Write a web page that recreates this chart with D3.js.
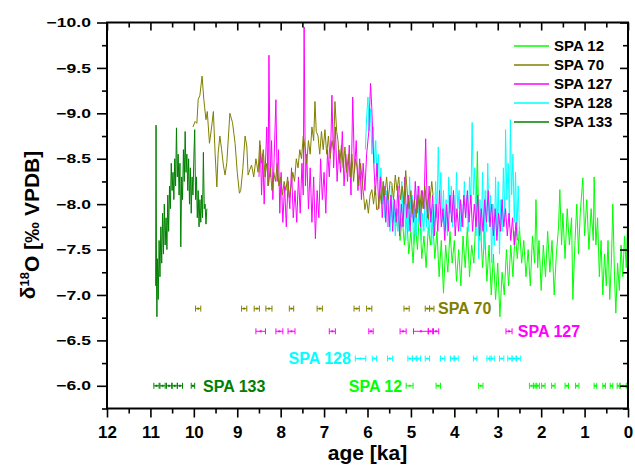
<!DOCTYPE html>
<html>
<head>
<meta charset="utf-8">
<script src="https://cdn.jsdelivr.net/npm/d3@7"></script>
<style>
    body { margin: 0; background: #fff; }
    svg text { font-family: "Liberation Sans", Arial, sans-serif; font-weight: bold; }
</style>
</head>
<body>
<div id="chart"></div>
<script>
// --- data: [age ka, d18O] ---
const seriesNames = ['SPA 12', 'SPA 70', 'SPA 127', 'SPA 128', 'SPA 133'];
const seriesColors = ['#00ff00', '#808000', '#ff00ff', '#00ffff', '#008000'];

const spa12 = [
    [5.35,-7.75],[5.30,-7.95],[5.25,-7.60],[5.20,-7.85],[5.15,-7.55],[5.10,-7.90],[5.05,-7.45],[5.00,-7.70],
    [4.95,-7.35],[4.90,-7.80],[4.85,-7.50],[4.80,-7.95],[4.75,-7.40],[4.70,-7.65],[4.65,-7.30],[4.60,-7.75],
    [4.55,-7.55],[4.50,-7.85],[4.45,-7.40],[4.40,-7.70],[4.35,-7.20],[4.30,-7.60],[4.25,-7.02],[4.20,-7.55],
    [4.15,-7.25],[4.10,-7.70],[4.05,-7.35],[4.00,-7.60],[3.95,-7.15],[3.90,-7.50],[3.85,-7.10],[3.80,-7.65],
    [3.75,-7.30],[3.70,-7.75],[3.65,-7.20],[3.60,-7.55],[3.55,-7.35],[3.50,-7.90],[3.47,-8.58],[3.43,-7.60],
    [3.40,-7.80],[3.35,-7.30],[3.30,-7.70],[3.25,-7.15],[3.20,-7.55],[3.15,-7.00],[3.10,-7.45],[3.05,-6.95],
    [3.00,-7.35],[2.95,-6.76],[2.90,-7.25],[2.85,-7.00],[2.80,-7.50],[2.75,-7.10],[2.70,-7.55],[2.65,-7.20],
    [2.60,-7.70],[2.55,-7.40],[2.50,-7.75],[2.45,-7.35],[2.40,-7.60],[2.35,-7.20],[2.30,-7.50],[2.25,-7.10],
    [2.20,-7.65],[2.15,-7.35],[2.12,-8.05],[2.08,-7.30],[2.05,-7.60],[2.00,-7.05],[1.95,-7.55],[1.90,-7.20],
    [1.85,-7.70],[1.80,-7.25],[1.75,-7.60],[1.70,-7.00],[1.65,-7.45],[1.60,-7.75],[1.57,-8.16],[1.53,-7.55],
    [1.50,-7.90],[1.45,-7.40],[1.40,-7.95],[1.35,-7.55],[1.30,-7.85],[1.27,-6.95],[1.22,-7.60],[1.18,-8.00],
    [1.14,-7.45],[1.10,-7.90],[1.04,-8.29],[1.00,-7.65],[0.95,-8.05],[0.90,-7.50],[0.85,-7.95],[0.80,-7.60],
    [0.78,-8.30],[0.74,-7.55],[0.70,-7.85],[0.66,-7.20],[0.62,-7.60],[0.58,-7.00],[0.54,-7.45],[0.50,-7.10],
    [0.46,-7.60],[0.42,-6.95],[0.38,-7.40],[0.35,-8.00],[0.31,-7.20],[0.28,-6.80],[0.24,-7.35],[0.20,-7.05],
    [0.16,-7.55],[0.12,-7.20],[0.08,-7.65],[0.04,-7.30],[0.00,-7.95]
];

const spa70 = [
    [10.02,-8.85],[9.97,-8.91],[9.93,-8.89],[9.90,-9.15],[9.86,-9.20],[9.81,-9.41],[9.77,-9.15],[9.72,-8.93],
    [9.69,-9.02],[9.64,-8.67],[9.59,-8.85],[9.55,-9.02],[9.51,-8.56],[9.47,-8.19],[9.44,-8.56],[9.40,-8.75],
    [9.36,-8.60],[9.32,-8.43],[9.28,-8.32],[9.24,-8.46],[9.17,-9.00],[9.11,-8.90],[9.05,-8.67],[9.00,-8.35],
    [8.95,-8.12],[8.92,-8.15],[8.87,-8.40],[8.82,-8.75],[8.78,-8.64],[8.75,-8.32],[8.71,-8.38],[8.67,-8.43],
    [8.62,-8.30],[8.57,-8.50],[8.52,-8.35],[8.48,-8.70],[8.44,-8.45],[8.40,-8.60],[8.36,-8.30],[8.32,-8.45],
    [8.28,-8.20],[8.24,-8.40],[8.20,-8.15],[8.16,-8.35],[8.12,-8.25],[8.08,-8.45],[8.04,-8.20],[8.00,-8.30],
    [7.96,-8.10],[7.92,-8.25],[7.88,-8.15],[7.84,-8.30],[7.80,-8.07],[7.76,-8.20],[7.72,-8.35],[7.68,-8.25],
    [7.64,-8.50],[7.60,-8.40],[7.56,-8.60],[7.52,-8.50],[7.48,-8.75],[7.44,-8.63],[7.40,-8.45],[7.36,-8.70],
    [7.32,-8.55],[7.28,-8.85],[7.24,-8.70],[7.21,-9.13],[7.18,-8.80],[7.14,-8.75],[7.10,-8.55],[7.06,-8.80],
    [7.02,-8.60],[6.98,-8.82],[6.94,-8.55],[6.90,-8.75],[6.86,-8.50],[6.82,-8.70],[6.78,-8.60],[6.75,-9.13],
    [6.71,-8.80],[6.68,-8.70],[6.64,-8.45],[6.60,-8.65],[6.56,-8.40],[6.52,-8.63],[6.48,-8.35],[6.44,-8.55],
    [6.40,-8.30],[6.36,-8.55],[6.32,-8.25],[6.28,-8.50],[6.24,-8.41],[6.20,-8.20],[6.16,-8.45],[6.13,-8.30],
    [6.09,-8.10],[6.06,-7.94],[6.02,-8.05],[5.98,-7.90],[5.94,-8.10],[5.90,-8.16],[5.86,-8.00],[5.82,-8.20],
    [5.79,-7.94],[5.76,-7.94],[5.72,-8.15],[5.68,-8.00],[5.64,-8.25],[5.60,-8.10],[5.56,-8.30],[5.52,-8.05],
    [5.48,-8.25],[5.44,-8.23],[5.40,-8.05],[5.36,-8.32],[5.32,-8.15],[5.28,-8.30],[5.24,-8.05],[5.20,-8.20],
    [5.16,-8.00],[5.12,-8.37],[5.08,-8.10],[5.04,-7.95],[5.00,-8.15],[4.96,-7.90],[4.92,-8.05],[4.88,-7.85],
    [4.84,-8.10],[4.80,-7.90],[4.76,-8.15],[4.72,-7.95],[4.68,-8.20],[4.64,-8.00],[4.60,-7.83],[4.56,-8.05],
    [4.52,-8.25],[4.49,-8.10]
];

const spa127 = [
    [8.50,-8.30],[8.47,-8.65],[8.44,-8.10],[8.41,-8.55],[8.38,-8.00],[8.35,-8.45],[8.32,-8.85],[8.29,-8.20],
    [8.27,-9.64],[8.24,-8.30],[8.21,-8.70],[8.18,-8.05],[8.15,-8.50],[8.11,-9.15],[8.08,-8.25],[8.05,-8.60],
    [8.02,-7.90],[7.99,-8.35],[7.95,-7.80],[7.91,-8.20],[7.87,-7.75],[7.83,-8.25],[7.79,-7.95],[7.75,-8.40],
    [7.71,-7.85],[7.67,-8.15],[7.63,-7.80],[7.59,-8.30],[7.55,-7.90],[7.51,-8.45],[7.48,-8.10],[7.46,-9.95],
    [7.43,-8.20],[7.40,-8.55],[7.36,-7.95],[7.32,-8.40],[7.28,-7.80],[7.24,-8.30],[7.20,-7.62],[7.16,-8.15],
    [7.12,-7.85],[7.08,-8.50],[7.04,-8.05],[7.00,-8.35],[6.96,-7.90],[6.92,-8.60],[6.88,-8.30],[6.84,-8.75],
    [6.82,-9.20],[6.78,-8.40],[6.74,-8.85],[6.70,-8.25],[6.66,-8.60],[6.62,-8.35],[6.58,-8.80],[6.54,-8.20],
    [6.50,-8.55],[6.46,-8.25],[6.42,-8.65],[6.38,-8.10],[6.34,-9.18],[6.30,-8.35],[6.26,-8.70],[6.22,-8.15],
    [6.18,-8.50],[6.14,-8.05],[6.10,-8.45],[6.06,-8.15],[6.02,-8.55],[5.97,-8.80],[5.93,-9.33],[5.90,-9.05],
    [5.86,-8.50],[5.82,-8.10],[5.78,-8.45],[5.74,-7.95],[5.70,-8.30],[5.66,-7.85],[5.62,-8.20],[5.58,-7.80],
    [5.54,-8.15],[5.50,-7.75],[5.46,-8.10],[5.42,-7.70],[5.38,-8.05],[5.34,-7.80],[5.30,-8.20],[5.26,-7.65],
    [5.22,-8.00],[5.18,-7.75],[5.14,-8.30],[5.10,-7.85],[5.06,-8.10],[5.02,-7.70],[4.98,-8.05],[4.94,-7.80],
    [4.90,-8.25],[4.86,-7.90],[4.82,-8.20],[4.78,-7.75],[4.74,-8.15],[4.70,-7.95],[4.66,-8.72],[4.62,-7.85],
    [4.58,-8.20],[4.54,-7.80],[4.50,-8.10],[4.46,-7.65],[4.42,-8.00],[4.38,-7.70],[4.34,-8.15],[4.30,-7.75],
    [4.26,-7.95],[4.22,-7.60],[4.18,-8.00],[4.14,-7.70],[4.10,-8.10],[4.06,-7.80],[4.02,-8.15],[3.98,-7.65],
    [3.94,-7.95],[3.90,-7.70],[3.86,-8.05],[3.82,-7.75],[3.78,-8.10],[3.74,-7.85],[3.70,-8.15],[3.66,-7.80],
    [3.62,-8.10],[3.58,-7.70],[3.54,-8.00],[3.50,-7.75],[3.46,-8.10],[3.42,-7.65],[3.38,-7.95],[3.34,-7.70],
    [3.30,-8.05],[3.26,-7.80],[3.22,-8.15],[3.18,-7.75],[3.14,-8.00],[3.10,-7.65],[3.06,-7.95],[3.02,-7.60],
    [2.98,-7.90],[2.94,-7.70],[2.90,-8.05],[2.86,-7.75],[2.82,-7.95],[2.78,-7.65],[2.74,-7.90],[2.70,-7.60],
    [2.66,-7.85],[2.62,-7.55],[2.58,-7.80],[2.55,-7.60]
];

const spa128 = [
    [6.05,-8.60],[6.02,-8.95],[5.99,-9.18],[5.96,-8.80],[5.93,-9.05],[5.90,-8.55],[5.87,-8.85],[5.84,-8.45],
    [5.81,-8.70],[5.78,-8.30],[5.75,-8.55],[5.72,-8.15],[5.69,-8.40],[5.66,-8.00],[5.63,-8.25],[5.60,-7.85],
    [5.57,-8.15],[5.54,-7.75],[5.51,-8.05],[5.48,-7.70],[5.45,-8.20],[5.42,-7.80],[5.39,-8.05],[5.36,-7.65],
    [5.33,-7.95],[5.30,-7.70],[5.27,-8.10],[5.24,-7.75],[5.21,-8.25],[5.18,-7.85],[5.15,-8.15],[5.12,-7.60],
    [5.09,-8.00],[5.06,-7.70],[5.03,-8.30],[5.00,-7.85],[4.97,-8.10],[4.94,-7.55],[4.91,-7.95],[4.88,-7.65],
    [4.85,-8.20],[4.82,-7.80],[4.79,-8.05],[4.76,-7.60],[4.73,-7.90],[4.70,-7.70],[4.67,-8.15],[4.64,-7.75],
    [4.61,-8.05],[4.58,-7.65],[4.55,-7.95],[4.52,-7.55],[4.49,-8.00],[4.46,-7.70],[4.43,-8.25],[4.40,-7.85],
    [4.37,-8.63],[4.34,-8.00],[4.31,-8.35],[4.28,-7.80],[4.25,-8.15],[4.22,-7.70],[4.19,-8.05],[4.16,-7.65],
    [4.13,-8.30],[4.10,-7.90],[4.07,-8.20],[4.04,-7.75],[4.01,-8.10],[3.98,-7.80],[3.95,-8.35],[3.92,-7.95],
    [3.89,-8.15],[3.86,-7.70],[3.83,-8.00],[3.80,-7.75],[3.77,-8.25],[3.74,-7.85],[3.71,-8.10],[3.68,-7.70],
    [3.65,-8.30],[3.62,-8.00],[3.59,-8.90],[3.56,-8.10],[3.53,-8.40],[3.50,-7.65],[3.47,-8.20],[3.44,-7.40],
    [3.41,-8.05],[3.38,-7.60],[3.35,-8.35],[3.32,-7.50],[3.29,-8.15],[3.26,-7.70],[3.23,-8.45],[3.20,-7.80],
    [3.17,-8.10],[3.14,-7.35],[3.11,-8.00],[3.08,-7.55],[3.05,-8.30],[3.02,-7.65],[2.99,-8.25],[2.96,-7.45],
    [2.93,-8.05],[2.90,-7.70],[2.87,-8.40],[2.84,-7.85],[2.82,-8.82],[2.79,-8.05],[2.76,-8.45],[2.73,-7.75],
    [2.71,-8.93],[2.68,-8.10],[2.65,-8.55],[2.62,-7.80],[2.59,-8.35],[2.56,-7.65],[2.53,-8.20],[2.50,-7.70]
];

const spa133 = [
    [10.88,-7.10],[10.87,-8.87],[10.86,-7.20],[10.85,-6.76],[10.84,-7.40],[10.82,-6.95],[10.80,-7.60],[10.78,-7.20],
    [10.76,-7.75],[10.74,-7.35],[10.72,-7.90],[10.70,-7.45],[10.68,-8.00],[10.66,-7.55],[10.64,-7.85],[10.62,-7.50],
    [10.60,-8.10],[10.58,-7.70],[10.56,-8.20],[10.54,-7.95],[10.52,-8.45],[10.50,-8.15],[10.48,-8.35],[10.46,-8.05],
    [10.44,-8.50],[10.42,-8.20],[10.40,-8.84],[10.38,-8.30],[10.36,-8.55],[10.34,-8.10],[10.32,-8.45],[10.30,-7.53],
    [10.28,-8.30],[10.26,-8.05],[10.24,-8.60],[10.22,-8.25],[10.20,-8.80],[10.18,-8.35],[10.16,-8.55],[10.14,-8.15],
    [10.12,-8.50],[10.10,-8.00],[10.08,-8.40],[10.06,-7.90],[10.04,-8.30],[10.02,-8.10],[10.00,-8.50],[9.98,-8.82],
    [9.96,-8.05],[9.94,-8.30],[9.92,-7.85],[9.90,-8.15],[9.88,-7.75],[9.86,-8.05],[9.84,-7.80],[9.82,-8.10],
    [9.80,-7.85],[9.78,-8.57],[9.76,-7.95],[9.74,-8.00],[9.72,-7.78],[9.70,-7.95]
];

// U/Th dates: [age, error]
const spa12Dates = [[5.03,0.08],[4.37,0.05],[3.39,0.05],[2.22,0.05],[2.14,0.04],[2.08,0.04],[1.95,0.04],[1.72,0.04],
    [1.41,0.04],[1.17,0.04],[0.75,0.03],[0.55,0.03],[0.38,0.03],[0.22,0.03],[0.11,0.07]];
const spa70Dates = [[9.90,0.06],[8.84,0.06],[8.55,0.06],[8.27,0.07],[7.75,0.05],[7.10,0.06],[6.25,0.06],[5.96,0.06],
    [5.10,0.06],[4.62,0.05],[4.52,0.05]];
const spa127Dates = [[8.46,0.11],[8.03,0.08],[7.75,0.08],[6.81,0.07],[5.92,0.05],[5.18,0.07],[4.77,0.17],[4.55,0.05],
    [4.42,0.06],[2.74,0.07]];
const spa128Dates = [[6.16,0.12],[5.84,0.05],[5.48,0.06],[5.02,0.05],[4.91,0.05],[4.83,0.05],[4.62,0.05],[4.27,0.05],
    [4.04,0.05],[3.96,0.05],[3.52,0.04],[3.20,0.05],[3.13,0.05],[2.91,0.05],[2.72,0.05],[2.62,0.05],[2.53,0.05]];
const spa133Dates = [[10.86,0.06],[10.72,0.06],[10.57,0.06],[10.44,0.06],[10.32,0.06],[10.02,0.04]];

const dateRowValue = [-6.0, -6.85, -6.6, -6.3, -6.0];
const dateLabelAge = [5.18, 4.40, 2.56, 6.36, 9.81];
const dateLabelAnchor = ['end', 'start', 'start', 'end', 'start'];

const xTicks = d3.range(0, 13, 1);
const xMinor = d3.range(0.5, 12, 1);
const yTicks = [-10, -9.5, -9, -8.5, -8, -7.5, -7, -6.5, -6];
const yMinor = [-9.75, -9.25, -8.75, -8.25, -7.75, -7.25, -6.75, -6.25, -5.75];

// --- drawing ---
const W = 635, H = 474;
const plot = { left: 107, right: 628, top: 22.5, bottom: 408.5 };

const x = d3.scaleLinear().domain([12, 0]).range([plot.left, plot.right]);
const y = d3.scaleLinear().domain([-10, -5.75]).range([plot.top, plot.bottom]);

const svg = d3.select('#chart').append('svg')
    .attr('width', W).attr('height', H);

const series = [spa12, spa70, spa127, spa128, spa133];
const dates = [spa12Dates, spa70Dates, spa127Dates, spa128Dates, spa133Dates];
const drawOrder = [0, 3, 2, 1, 4];

const line = d3.line().x(d => x(d[0])).y(d => y(d[1]));

const dataG = svg.append('g');
drawOrder.forEach(i => {
    dataG.append('path')
        .datum(series[i])
        .attr('fill', 'none')
        .attr('stroke', seriesColors[i])
        .attr('stroke-width', 1)
        .attr('stroke-linejoin', 'round')
        .attr('d', line);
});

// date markers with error bars
dates.forEach((ds, i) => {
    const g = svg.append('g').attr('stroke', seriesColors[i]).attr('fill', seriesColors[i]);
    const yy = y(dateRowValue[i]);
    ds.forEach(([a, e]) => {
        const x0 = x(a + e), x1 = x(a - e);
        g.append('line').attr('x1', x0).attr('x2', x1).attr('y1', yy).attr('y2', yy).attr('stroke-width', 1);
        g.append('line').attr('x1', x0).attr('x2', x0).attr('y1', yy - 3).attr('y2', yy + 3).attr('stroke-width', 1);
        g.append('line').attr('x1', x1).attr('x2', x1).attr('y1', yy - 3).attr('y2', yy + 3).attr('stroke-width', 1);
        g.append('rect').attr('x', x(a) - 1).attr('y', yy - 1).attr('width', 2).attr('height', 2).attr('stroke', 'none');
    });
    svg.append('text')
        .attr('x', x(dateLabelAge[i]) + (dateLabelAnchor[i] === 'end' ? -1 : 1))
        .attr('y', yy)
        .attr('dy', '0.36em')
        .attr('text-anchor', dateLabelAnchor[i])
        .attr('fill', seriesColors[i])
        .style('font-size', '16px')
        .text(seriesNames[i]);
});

// axes
function styleAxis(g, w) {
    g.select('.domain').remove();
    g.selectAll('.tick line').attr('stroke', '#000').attr('stroke-width', w);
}

svg.append('g').attr('transform', `translate(0,${plot.bottom})`)
    .call(d3.axisBottom(x).tickValues(xTicks).tickSize(9).tickPadding(8).tickFormat(d3.format('d')))
    .call(g => styleAxis(g, 1.6))
    .call(g => g.selectAll('text').attr('fill', '#000').style('font-size', '17px').style('font-family', null));
svg.append('g').attr('transform', `translate(0,${plot.bottom})`)
    .call(d3.axisBottom(x).tickValues(xMinor).tickSize(5).tickFormat(''))
    .call(g => styleAxis(g, 1.6));

svg.append('g').attr('transform', `translate(0,${plot.top})`)
    .call(d3.axisTop(x).tickValues(xTicks).tickSize(-8).tickFormat(''))
    .call(g => styleAxis(g, 1.6));
svg.append('g').attr('transform', `translate(0,${plot.top})`)
    .call(d3.axisTop(x).tickValues(xMinor).tickSize(-5).tickFormat(''))
    .call(g => styleAxis(g, 1.6));

const yStretch = 1.35;
svg.append('g').attr('transform', `translate(${plot.left},0)`)
    .call(d3.axisLeft(y).tickValues(yTicks).tickSize(10).tickFormat(d3.format('.1f')))
    .call(g => styleAxis(g, 1.6))
    .call(g => g.selectAll('text')
        .attr('fill', '#000')
        .attr('x', -16 / yStretch)
        .attr('transform', `scale(${yStretch},1)`)
        .style('font-size', '13px').style('font-family', null));
svg.append('g').attr('transform', `translate(${plot.left},0)`)
    .call(d3.axisLeft(y).tickValues(yMinor).tickSize(5).tickFormat(''))
    .call(g => styleAxis(g, 1.6));

svg.append('g').attr('transform', `translate(${plot.right},0)`)
    .call(d3.axisRight(y).tickValues(yTicks).tickSize(-8).tickFormat(''))
    .call(g => styleAxis(g, 1.6));
svg.append('g').attr('transform', `translate(${plot.right},0)`)
    .call(d3.axisRight(y).tickValues(yMinor).tickSize(-5).tickFormat(''))
    .call(g => styleAxis(g, 1.6));

svg.append('rect')
    .attr('x', plot.left).attr('y', plot.top)
    .attr('width', plot.right - plot.left).attr('height', plot.bottom - plot.top)
    .attr('fill', 'none').attr('stroke', '#000').attr('stroke-width', 2);

// axis titles
svg.append('text')
    .attr('x', (plot.left + plot.right) / 2).attr('y', 460)
    .attr('text-anchor', 'middle')
    .style('font-size', '21px')
    .text('age [ka]');

const yTitle = svg.append('text')
    .attr('transform', 'translate(35,225) rotate(-90)')
    .attr('text-anchor', 'middle')
    .style('font-size', '21px');
yTitle.append('tspan').text('δ');
yTitle.append('tspan').attr('dy', '-0.45em').style('font-size', '13px').text('18');
yTitle.append('tspan').attr('dy', '0.45em').text('O [‰ VPDB]');

// legend
const legend = svg.append('g');
seriesNames.forEach((name, i) => {
    const ly = Math.round(45.5 + i * 19.1);
    legend.append('line')
        .attr('x1', 514).attr('x2', 549).attr('y1', ly).attr('y2', ly)
        .attr('stroke', seriesColors[i]).attr('stroke-width', 1.5);
    legend.append('text')
        .attr('x', 554).attr('y', ly).attr('dy', '0.36em')
        .style('font-size', '15px')
        .text(name);
});
</script>
</body>
</html>
